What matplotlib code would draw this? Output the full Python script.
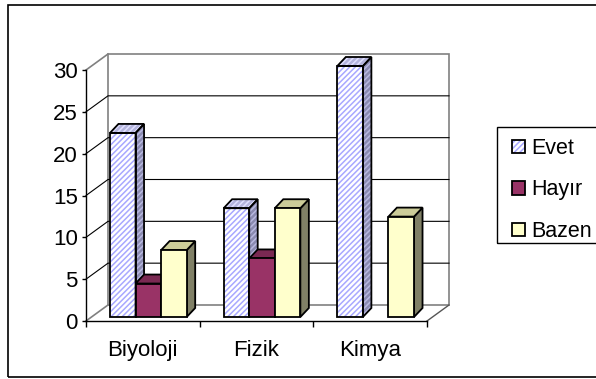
import matplotlib
matplotlib.use('Agg')
import matplotlib.pyplot as plt
from matplotlib.patches import Polygon, Rectangle, Patch
from matplotlib.legend_handler import HandlerTuple

plt.rcParams['font.family'] = ['Liberation Sans', 'DejaVu Sans']
plt.rcParams['hatch.linewidth'] = 1.1

# data
categories = ['Biyoloji', 'Fizik', 'Kimya']
series = ['Evet', 'Hayır', 'Bazen']
evet = [22, 13, 30]
hayir = [4, 7, 0]
bazen = [8, 13, 12]
values = [evet, hayir, bazen]
yticks = [0, 5, 10, 15, 20, 25, 30]

# colours: front, side, top, hatch
front_c = ['white', '#993366', '#FFFFCC']
side_c = ['#8A8AB0', '#4D1A33', '#808066']
top_c = ['#B4B4DC', '#7A2952', '#CCCC99']
hatch_c = ['#A8A8FF', None, None]
side_hatch_c = ['#B8B8E0', None, None]
HATCH = '//////'

W_PX, H_PX = 596, 379
fig = plt.figure(figsize=(W_PX / 100, H_PX / 100), dpi=100)

# front plane of the plot in pixels
left, right, top, bottom = 86, 427, 70, 321
ax = fig.add_axes([left / W_PX, 1 - bottom / H_PX, (right - left) / W_PX, (bottom - top) / H_PX])
ax.set_xlim(0, len(categories))
ax.set_ylim(0, 30)
for s in ax.spines.values():
    s.set_visible(False)

PX_X = (right - left) / len(categories)
PX_Y = (bottom - top) / 30.0


def px(dx, dy):
    return dx / PX_X, dy / PX_Y


DX, DY = px(22, 16)        # depth of the plot box
SX, SY = px(5.5, 4)        # shift of bar faces into the box
BX, BY = px(8.5, 9)        # bar depth
W = 0.225
MARGIN = (1 - 3 * W) / 2
n = len(categories)
grey = '#808080'

# back wall + floor
ax.add_patch(Polygon([(DX, DY), (n + DX, DY), (n + DX, 30 + DY), (DX, 30 + DY)],
                     closed=True, facecolor='white', edgecolor=grey, lw=1.2, clip_on=False, zorder=1))
ax.plot([0, DX], [0, DY], color=grey, lw=1.2, clip_on=False, zorder=1.2)
ax.plot([0, DX], [30, 30 + DY], color=grey, lw=1.2, clip_on=False, zorder=1.2)
ax.plot([n, n + DX], [0, DY], color='#555555', lw=1, clip_on=False, zorder=1.2)
for v in yticks[1:-1]:
    ax.plot([0, DX, n + DX], [v, v + DY, v + DY], color='black', lw=0.8, clip_on=False, zorder=1.3)

# front axis lines
ax.plot([0, 0], [0, 30], color='black', lw=1, clip_on=False, zorder=1.4)
ax.plot([0, n], [0, 0], color='black', lw=1, clip_on=False, zorder=1.4)

# bars
z = 3
for i in range(n):
    for j in range(len(series)):
        v = values[j][i]
        if v == 0:
            continue
        xl = i + MARGIN + j * W + SX
        xr = xl + W
        b = SY
        side = [(xr, b), (xr + BX, b + BY), (xr + BX, b + v + BY), (xr, b + v)]
        topf = [(xl, b + v), (xr, b + v), (xr + BX, b + v + BY), (xl + BX, b + v + BY)]
        hatched = hatch_c[j] is not None
        if hatched:
            ax.add_patch(Polygon(side, closed=True, facecolor=side_c[j], edgecolor=side_hatch_c[j],
                                 lw=0, hatch=HATCH, clip_on=False, zorder=z))
            ax.add_patch(Polygon(topf, closed=True, facecolor=top_c[j], edgecolor='#E0E0FF',
                                 lw=0, hatch=HATCH, clip_on=False, zorder=z))
            ax.bar(xl, v, width=W, bottom=b, align='edge', color=front_c[j], edgecolor=hatch_c[j],
                   lw=0, hatch=HATCH, clip_on=False, zorder=z)
        ax.add_patch(Polygon(side, closed=True, facecolor='none' if hatched else side_c[j],
                             edgecolor='black', lw=1.3, clip_on=False, zorder=z + 0.1))
        ax.add_patch(Polygon(topf, closed=True, facecolor='none' if hatched else top_c[j],
                             edgecolor='black', lw=1.3, clip_on=False, zorder=z + 0.1))
        ax.bar(xl, v, width=W, bottom=b, align='edge', color='none' if hatched else front_c[j],
               edgecolor='black', lw=1.3, clip_on=False, zorder=z + 0.2)
        z += 1

# ticks
ax.set_yticks(yticks)
ax.tick_params(axis='y', length=3, width=1, pad=3, labelsize=16)
ax.set_xticks(range(n + 1))
ax.set_xticklabels([])
ax.set_xticks([i + 0.5 for i in range(n)], minor=True)
ax.set_xticklabels(categories, minor=True)
ax.tick_params(axis='x', which='major', length=4, width=1)
ax.tick_params(axis='x', which='minor', length=0, pad=14, labelsize=16)

# outer border
fig.add_artist(Rectangle((8 / W_PX, 1 - 377 / H_PX), 600 / W_PX, 372 / H_PX, transform=fig.transFigure,
                         facecolor='none', edgecolor='black', lw=1.2))

# legend box
fig.add_artist(Rectangle((497 / W_PX, 1 - 243 / H_PX), 110 / W_PX, 116 / H_PX, transform=fig.transFigure,
                         facecolor='none', edgecolor='black', lw=1))
handles = [(Patch(facecolor='white', edgecolor=hatch_c[0], hatch=HATCH, lw=0),
            Patch(facecolor='none', edgecolor='black', lw=1.3)),
           Patch(facecolor=front_c[1], edgecolor='black', lw=1.3),
           Patch(facecolor=front_c[2], edgecolor='black', lw=1.3)]
leg = fig.legend(handles, series, loc='center left', bbox_to_anchor=(501 / W_PX, 1 - 190 / H_PX),
                 frameon=False, fontsize=15.5, handlelength=0.6, handleheight=0.6,
                 handletextpad=0.3, labelspacing=0.95, borderpad=0,
                 handler_map={tuple: HandlerTuple(ndivide=1, pad=0)})

plt.savefig('out.png', dpi=100)
